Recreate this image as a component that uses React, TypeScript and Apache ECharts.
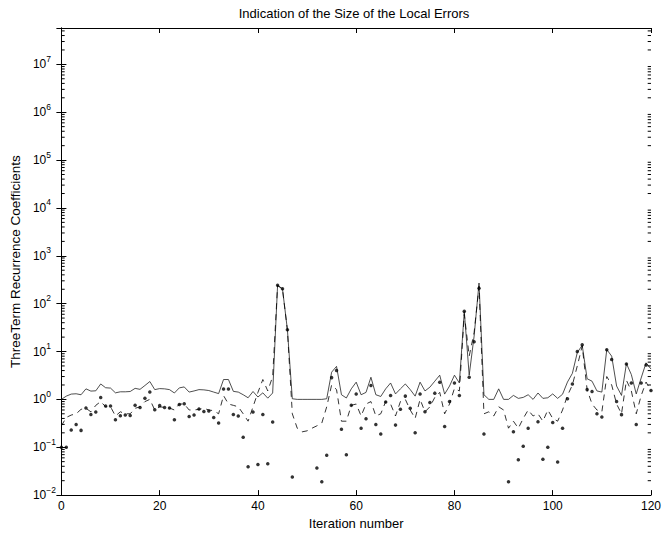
import React, { useEffect, useRef } from 'react';
import * as echarts from 'echarts';

// iteration indices (x axis categories)
const iterations: number[] = Array.from({ length: 121 }, (_, i) => i);

// solid line
const solidVals: number[] = [
  1.0, 1.17, 1.29, 1.31, 1.25, 1.66, 1.49, 1.51, 2.1, 1.75,
  1.72, 1.37, 1.44, 1.44, 1.46, 1.7, 1.62, 1.95, 2.36, 1.6,
  1.68, 1.66, 1.6, 1.36, 1.74, 1.82, 1.42, 1.5, 1.6, 1.58,
  1.53, 1.42, 1.32, 2.6, 2.6, 1.47, 1.42, 1.25, 1.08, 1.46,
  1.12, 1.37, 1.06, 1.36, 243, 204, 28.5, 1.03, 1.0, 1.0,
  1.0, 1.0, 1.0, 1.0, 1.03, 3.7, 4.9, 1.25, 1.07, 1.66,
  2.29, 1.25, 1.4, 2.9, 1.25, 1.15, 1.66, 2.2, 1.3, 1.66,
  2.1, 1.6, 1.17, 2.29, 1.5, 1.8, 2.4, 3.2, 1.29, 1.9,
  3.2, 2.2, 69, 3.2, 21, 270, 1.25, 1.0, 1.0, 1.66,
  1.0, 1.0, 1.21, 1.05, 1.1, 1.25, 1.0, 1.36, 1.05, 1.08,
  1.3, 1.05, 1.28, 2.3, 3.5, 9.5, 13.5, 2.7, 2.4, 1.5,
  1.42, 11, 8, 1.9, 1.21, 5.6, 3.3, 1.3, 2.8, 5.8,
  4.3,
];

// dashed line
const dashedVals: number[] = [
  0.28, 0.42, 0.47, 0.5, 0.62, 0.65, 0.55, 0.75, 0.9, 0.7,
  0.7, 0.45, 0.55, 0.5, 0.5, 0.65, 0.7, 0.9, 1.0, 0.6,
  0.7, 0.68, 0.66, 0.6, 0.8, 0.8, 0.6, 0.6, 0.62, 0.65,
  0.6, 0.58, 0.5, 1.2, 0.8, 0.75, 0.7, 0.5, 0.35, 0.7,
  1.4, 2.6, 1.5, 3.0, 240, 200, 28, 0.5, 0.25, 0.21,
  0.22, 0.25, 0.28, 0.32, 0.7, 2.0, 1.6, 0.35, 0.35, 0.75,
  0.8, 0.45, 0.8, 0.9, 0.45, 0.5, 0.9, 0.8, 0.45, 0.9,
  1.0, 0.6, 0.4, 1.0, 0.55, 0.7, 1.1, 1.4, 0.5, 0.8,
  1.7, 1.5, 60, 8, 25, 230, 0.5, 0.55, 0.45, 0.7,
  0.6, 0.25, 0.35, 0.25, 0.4, 0.6, 0.45, 0.5, 0.35, 0.6,
  0.4, 0.35, 0.6, 1.2, 2.0, 5.0, 13, 1.6, 0.8, 0.6,
  0.55, 3.0, 2.0, 0.8, 0.5, 2.5, 1.5, 0.5, 1.2, 2.3,
  1.5,
];

// dots (null = below the axis range)
const dotVals: (number | null)[] = [
  0.1, 0.1, 0.23, 0.3, 0.225, 0.66, 0.485, 0.545, 1.1, 0.73,
  0.73, 0.376, 0.456, 0.47, 0.46, 0.75, 0.68, 1.06, 1.42, 0.61,
  0.74, 0.68, 0.66, 0.376, 0.78, 0.81, 0.44, 0.47, 0.63, 0.56,
  0.57, 0.42, 0.32, 1.64, 1.64, 0.485, 0.45, 0.161, 0.039, 0.545,
  0.0435, 0.485, 0.045, 0.337, 243, 204, 28.5, 0.024, null, null,
  null, null, 0.037, 0.019, 0.068, 2.85, 4.0, 0.237, 0.07, 0.75,
  1.3, 0.25, 0.395, 1.95, 0.3, 0.19, 0.88, 1.21, 0.29, 0.62,
  1.17, 0.65, 0.2, 1.3, 0.55, 0.86, 1.35, 2.29, 0.27, 0.9,
  2.2, 1.21, 69, 2.9, 16, 210, 0.19, null, null, null,
  null, 0.019, 0.21, 0.055, 0.105, 0.25, null, 0.34, 0.056, 0.1,
  0.33, 0.049, 0.25, 1.03, 2.1, 10, 13.9, 1.6, 1.46, 0.5,
  0.43, 10.9, 6.8, 0.9, 0.48, 5.5, 2.2, 0.3, 2.2, 5.25,
  1.53,
];

const X_MIN = 0;
const X_MAX = 120;
const X_STEP = 20;
const Y_MIN = 0.01;
const Y_MAX = 5.75e7;

const FONT = "'Liberation Sans', Arial, Helvetica, sans-serif";

function buildMinorTicks(): number[] {
  const out: number[] = [];
  for (let d = -2; d <= 7; d++) {
    for (let k = 2; k <= 9; k++) {
      const v = k * Math.pow(10, d);
      if (v < Y_MAX) out.push(v);
    }
  }
  return out;
}

export default function App() {
  const ref = useRef<HTMLDivElement>(null);
  useEffect(() => {
    if (!ref.current) return;
    const chart = echarts.init(ref.current, undefined, { renderer: 'svg' });
    const minorTicks = buildMinorTicks();
    const labelFmt = (val: number) => {
      const l = Math.log10(val);
      const e = Math.round(l);
      if (Math.abs(l - e) > 1e-6) return '';
      const es = e < 0 ? '\u2212' + -e : String(e);
      return `{b|10}{s|${es}}`;
    };
    const tickStyle = { show: true, inside: true, length: 5, lineStyle: { color: '#000', width: 1 } };
    const lineStyleAxis = { show: true, lineStyle: { color: '#000', width: 1 } };
    chart.setOption({
      animation: false,
      backgroundColor: '#fff',
      textStyle: { fontFamily: FONT },
      grid: { left: 59, top: 28, width: 594, height: 469, containLabel: false },
      graphic: [
        {
          type: 'text',
          x: 354,
          y: 13,
          style: {
            text: 'Indication of the Size of the Local Errors',
            fontSize: 13,
            fontFamily: FONT,
            fill: '#000',
            textAlign: 'center',
            textVerticalAlign: 'middle',
          },
        },
      ],
      xAxis: [
        {
          type: 'value',
          min: X_MIN,
          max: X_MAX,
          interval: X_STEP,
          position: 'bottom',
          axisLine: lineStyleAxis,
          axisTick: tickStyle,
          splitLine: { show: false },
          axisLabel: { color: '#000', fontSize: 12, fontFamily: FONT, margin: 5 },
          name: 'Iteration number',
          nameLocation: 'middle',
          nameGap: 21,
          nameTextStyle: { color: '#000', fontSize: 13, fontFamily: FONT },
        },
        {
          type: 'value',
          min: X_MIN,
          max: X_MAX,
          interval: X_STEP,
          position: 'top',
          axisLine: lineStyleAxis,
          axisTick: tickStyle,
          splitLine: { show: false },
          axisLabel: { show: false },
        },
      ],
      yAxis: [
        {
          type: 'log',
          logBase: 10,
          min: Y_MIN,
          max: Y_MAX,
          splitNumber: 10,
          position: 'left',
          axisLine: lineStyleAxis,
          axisTick: tickStyle,
          splitLine: { show: false },
          axisLabel: {
            formatter: labelFmt,
            align: 'left',
            margin: 28.5,
            showMaxLabel: false,
            rich: {
              b: { fontSize: 12, fontFamily: FONT, color: '#000', lineHeight: 20 },
              s: { fontSize: 8.5, fontFamily: FONT, color: '#000', lineHeight: 20, verticalAlign: 'top' },
            },
          },
          name: 'ThreeTerm Recurrence Coefficients',
          nameLocation: 'middle',
          nameGap: 33,
          nameTextStyle: { color: '#000', fontSize: 13.5, fontFamily: FONT },
        },
        {
          type: 'log',
          logBase: 10,
          min: Y_MIN,
          max: Y_MAX,
          splitNumber: 10,
          position: 'right',
          axisLine: lineStyleAxis,
          axisTick: tickStyle,
          splitLine: { show: false },
          axisLabel: { show: false },
        },
      ],
      series: [
        {
          type: 'line',
          name: 'solid',
          data: iterations.map((x, i) => [x, solidVals[i]]),
          showSymbol: false,
          lineStyle: { color: '#222', width: 0.8 },
          z: 3,
        },
        {
          type: 'line',
          name: 'dashed',
          data: iterations.map((x, i) => [x, dashedVals[i]]),
          showSymbol: false,
          lineStyle: { color: '#000', width: 0.8, type: [6, 5] },
          z: 3,
        },
        {
          type: 'scatter',
          name: 'dots',
          data: iterations
            .map((x, i) => [x, dotVals[i]])
            .filter((p) => p[1] != null),
          symbol: 'circle',
          symbolSize: 3.5,
          itemStyle: { color: '#000' },
          z: 4,
        },
        {
          type: 'custom',
          name: 'minorTicks',
          data: minorTicks.map((v) => [X_MIN, v]),
          silent: true,
          renderItem: (params: any, api: any) => {
            const v = api.value(1);
            const pl = api.coord([X_MIN, v]);
            const pr = api.coord([X_MAX, v]);
            return {
              type: 'group',
              children: [
                { type: 'line', shape: { x1: pl[0], y1: pl[1], x2: pl[0] + 3.3, y2: pl[1] }, style: { stroke: '#000', lineWidth: 1 } },
                { type: 'line', shape: { x1: pr[0] - 3.3, y1: pr[1], x2: pr[0], y2: pr[1] }, style: { stroke: '#000', lineWidth: 1 } },
              ],
            };
          },
          z: 5,
        },
      ],
    });
    return () => chart.dispose();
  }, []);
  return <div ref={ref} style={{ position: 'fixed', left: 0, top: 0, width: 664, height: 535 }} />;
}
